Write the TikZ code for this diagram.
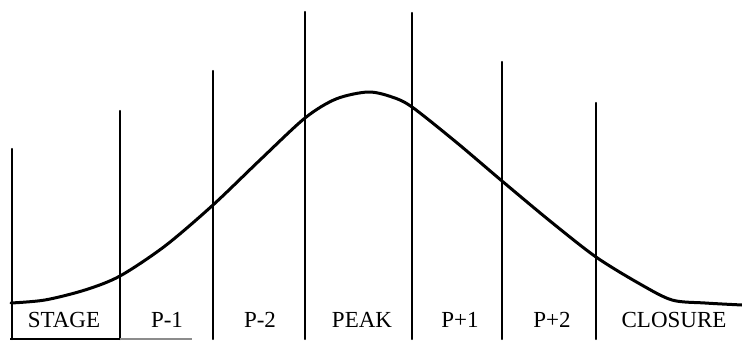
\documentclass[tikz,border=0pt]{standalone}
\usepackage{fontspec}
\setmainfont{Liberation Serif}
\begin{document}
\begin{tikzpicture}[x=1pt,y=-1pt,
  divider/.style={line width=2.4pt,line cap=round},
  curveline/.style={line width=3pt,line cap=round,line join=round},
  stagelabel/.style={anchor=base,inner sep=0pt,font=\fontsize{23}{26}\selectfont}]
\useasboundingbox (0,0) rectangle (742,345);
% divider tops and bottoms
\foreach \n/\x/\t in {0/12/149,1/120/111,2/213/71,3/305/12,4/412/13,5/502/62,6/596/103}{
  \coordinate (t\n) at (\x,\t);
  \coordinate (b\n) at (\x,339);
  \draw[divider] (t\n) -- (b\n);
}
% bottom line
\coordinate (bl) at (10,339);
\coordinate (bf) at (192,339);
\draw[line width=2pt] (bl) -- (b1);
\draw[line width=1.2pt,black!45] (b1) -- (bf);
% curve
\draw[curveline] plot[smooth,tension=0.5] coordinates {
 (11,303) (45,300) (85,290) (120,276) (165,246) (213,205) (260,160)
 (305,118) (336,99) (368,92) (392,97) (412,107) (456,142) (502,181)
 (550,221) (596,257) (640,284) (672,300) (705,303) (742,305)};
% labels
\node[stagelabel] (stage) at (64,327) {STAGE};
\node[stagelabel] (p1) at (167,327) {P-1};
\node[stagelabel] (p2) at (260,327) {P-2};
\node[stagelabel] (peak) at (362,327) {PEAK};
\node[stagelabel] (q1) at (460,327) {P+1};
\node[stagelabel] (q2) at (552,327) {P+2};
\node[stagelabel] (closure) at (674,327) {CLOSURE};
\end{tikzpicture}
\end{document}
